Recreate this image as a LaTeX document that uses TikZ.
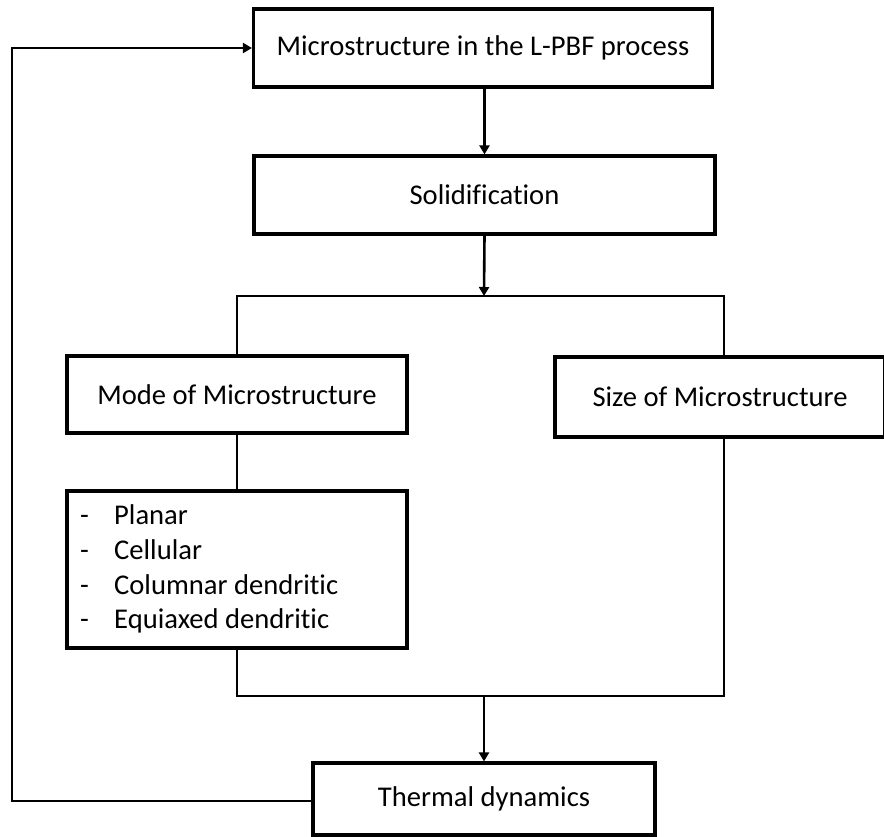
\documentclass[tikz,border=0pt]{standalone}
\usepackage{fontspec}
\setmainfont{Carlito}[Ligatures=NoCommon]
\usetikzlibrary{arrows.meta}
\tikzset{
  box/.style={draw=black, line width=3.2pt, inner sep=0pt, anchor=center, font=\fontsize{28.6}{34.7}\selectfont},
  link/.style={draw=black, line width=2pt},
  arrowlink/.style={draw=black, line width=2.6pt, -{Triangle[length=9pt,width=10pt]}},
}
\begin{document}
\begin{tikzpicture}[x=1pt,y=-1pt]
\useasboundingbox (0,0) rectangle (884,836);
\node[box, minimum width=459pt, minimum height=78pt] (micro) at (483,48) {Microstructure in the L-PBF process};
\node[box, minimum width=461pt, minimum height=78pt] (solid) at (484.5,195) {Solidification};
\node[box, minimum width=340pt, minimum height=77pt] (mode) at (237,394.5) {Mode of Microstructure};
\node[box, minimum width=330pt, minimum height=80pt] (size) at (720,397) {Size of Microstructure};
\node[box, minimum width=340pt, minimum height=157pt] (list) at (237,569.5) {};
\node[anchor=west, inner sep=0pt, font=\fontsize{28.6}{34.7}\selectfont] (items) at (80,570)
  {\begin{tabular}{@{}p{34pt}@{}l@{}}-&Planar\\-&Cellular\\-&Columnar dendritic\\-&Equiaxed dendritic\end{tabular}};
\node[box, minimum width=342pt, minimum height=72pt] (thermal) at (484,799) {Thermal dynamics};
\coordinate (jc) at (484,296);
\coordinate (jr) at (724,296);
\coordinate (bc) at (484,696);
\coordinate (br) at (724,696);
\coordinate (fb) at (12,801);
\draw[arrowlink] (micro.south -| solid.north) -- (solid.north);
\draw[arrowlink] (solid.south) -- (jc);
\draw[link] (mode.north) |- (jr) -- (jr |- size.north);
\draw[link] (mode.south) -- (list.north);
\draw[link] (list.south) |- (br) -- (br |- size.south);
\draw[arrowlink] (bc) -- (thermal.north);
\draw[arrowlink] (thermal.west |- fb) -- (fb) |- (micro.west);
\end{tikzpicture}
\end{document}
